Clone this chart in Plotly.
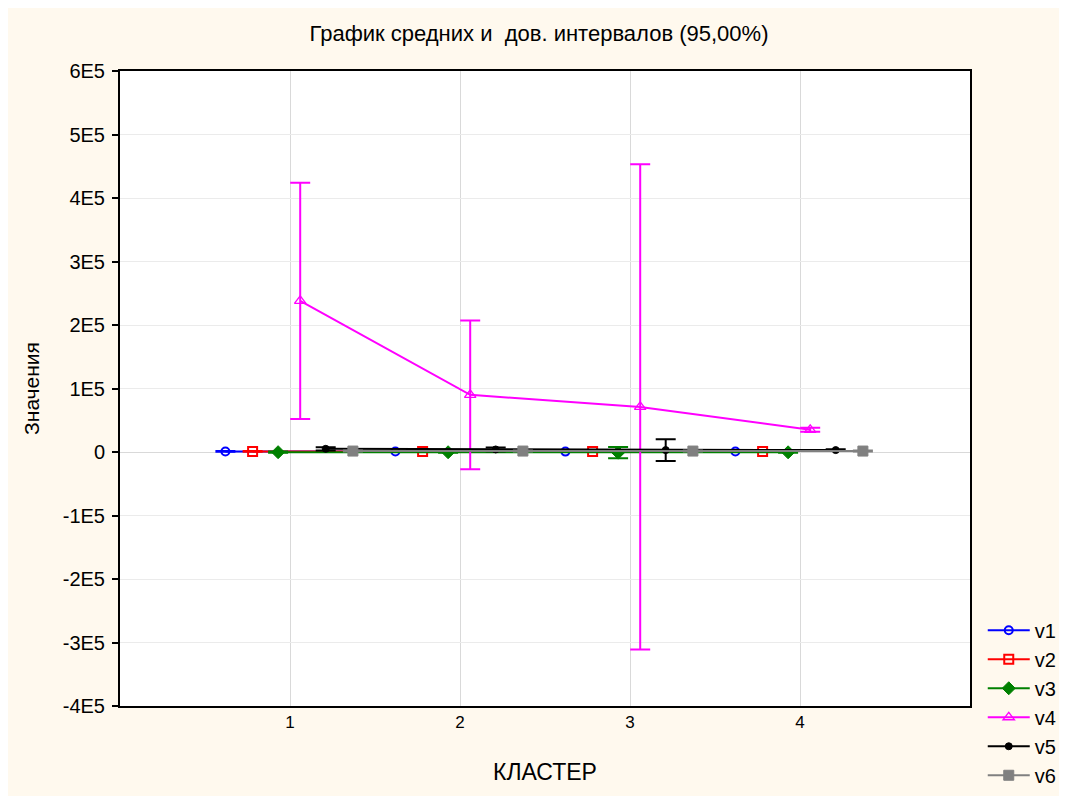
import plotly.graph_objects as go

# ---- data ----
clusters = [1, 2, 3, 4]
series_names = ["v1", "v2", "v3", "v4", "v5", "v6"]
v1_mean = [800, 700, 600, 700]
v1_err = [600, 500, 500, 500]
v2_mean = [900, 800, 800, 700]
v2_err = [700, 600, 600, 500]
v3_mean = [-300, -400, -1000, -500]
v3_err = [900, 800, 9000, 700]
v4_mean = [238000, 90000, 71000, 35000]
v4_err = [186000, 117000, 382000, 3000]
v5_mean = [5000, 4000, 3000, 3000]
v5_err = [2500, 3000, 17000, 1500]
v6_mean = [1500, 1500, 1500, 1500]
v6_err = [800, 800, 800, 800]
y_tick_vals = [-400000, -300000, -200000, -100000, 0, 100000, 200000, 300000, 400000, 500000, 600000]
y_tick_text = ["-4E5", "-3E5", "-2E5", "-1E5", "0", "1E5", "2E5", "3E5", "4E5", "5E5", "6E5"]

means = [v1_mean, v2_mean, v3_mean, v4_mean, v5_mean, v6_mean]
errs = [v1_err, v2_err, v3_err, v4_err, v5_err, v6_err]

# ---- styles ----
offsets = [-0.38, -0.22, -0.07, 0.06, 0.21, 0.37]
colors = ["#0000FF", "#FF0000", "#008000", "#FF00FF", "#000000", "#808080"]
symbols = ["circle-open", "square-open", "diamond", "triangle-up-open", "circle", "square"]
msizes = [8, 9, 10, 10, 7, 10]
mlw = [2, 2, 1, 1.3, 1, 1]

fig = go.Figure()
for name, m, e, off, c, s, ms, lw in zip(series_names, means, errs, offsets, colors, symbols, msizes, mlw):
    fig.add_trace(go.Scatter(
        x=[k + off for k in clusters], y=m, name=name,
        mode="lines+markers",
        line=dict(color=c, width=2),
        marker=dict(color=c, symbol=s, size=ms, line=dict(color=c, width=lw)),
        error_y=dict(type="data", array=e, visible=True, color=c, thickness=2, width=10),
    ))

font_main = "Liberation Sans, Arial, sans-serif"
W, H = 1059, 788
fig.update_layout(
    width=W, height=H,
    paper_bgcolor="#FFF9EE", plot_bgcolor="#FFFFFF",
    margin=dict(l=112, r=97, t=63, b=90, autoexpand=False),
    title=dict(text="График средних и  дов. интервалов (95,00%)", x=531/W, xanchor="center",
               y=1 - 25/H, yanchor="middle",
               font=dict(family=font_main, size=22, color="#000000")),
    font=dict(family=font_main, color="#000000"),
    showlegend=True,
    legend=dict(x=1.015, xanchor="left", y=0.150, yanchor="top", bgcolor="rgba(0,0,0,0)",
                font=dict(size=20, family=font_main), tracegroupgap=0, itemwidth=42),
    xaxis=dict(range=[0, 5], tickvals=clusters, ticktext=[str(c) for c in clusters],
               showgrid=True, gridcolor="#D9D9D9", gridwidth=1,
               showline=True, linecolor="#000000", linewidth=2, mirror=True,
               ticks="", zeroline=False, tickfont=dict(size=17), automargin=False,
               title=dict(text="КЛАСТЕР", font=dict(size=23), standoff=32)),
    yaxis=dict(range=[-400000, 600000], tickvals=y_tick_vals, ticktext=y_tick_text,
               showgrid=True, gridcolor="#EBEBEB", gridwidth=1,
               showline=True, linecolor="#000000", linewidth=2, mirror=True,
               ticks="outside", ticklen=6, tickcolor="#000000", tickwidth=2,
               ticklabelstandoff=3,
               zeroline=True, zerolinecolor="#D9D9D9", zerolinewidth=1,
               tickfont=dict(size=20), automargin=False,
               title=dict(text="Значения", font=dict(size=21), standoff=17)),
)

fig.write_html("out.html")
